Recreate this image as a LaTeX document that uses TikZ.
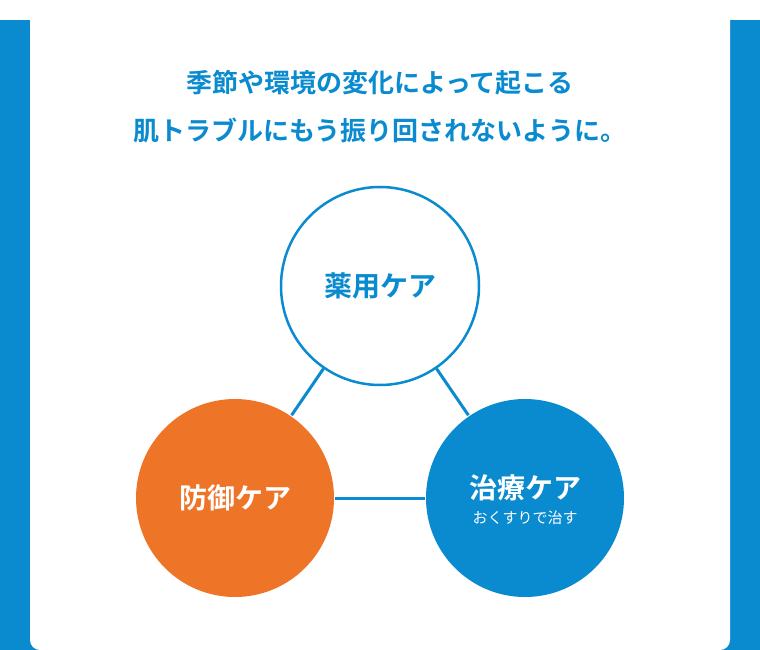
\documentclass[tikz,border=0pt]{standalone}
\usepackage{fontspec}
\newfontfamily\cjk{Noto Sans CJK JP}
\newfontfamily\cjkb{Noto Sans CJK JP Bold}
\definecolor{myblue}{HTML}{0A8BD0}
\definecolor{myorange}{HTML}{EE7527}
\begin{document}
\begin{tikzpicture}[x=1pt,y=-1pt,
  ring/.style={circle,minimum size=198pt,inner sep=0pt,line width=2.5pt},
  link/.style={draw=myblue,line width=3pt},
  ttl/.style={text=myblue,font=\cjkb\fontsize{26}{30}\selectfont}]
\fill[myblue] (0,0) rectangle (760,630);
\fill[white,rounded corners=10pt] (30,-20) rectangle (730,630);
\useasboundingbox (0,0) rectangle (760,630);
\node[ttl] (t1) at (380,63) {季節や環境の変化によって起こる};
\node[ttl] (t2) at (380,110) {肌トラブルにもう振り回されないように。};
\node[ring,draw=myblue,fill=white] (a) at (380,266) {};
\node[ring,fill=myorange] (b) at (235,478) {};
\node[ring,fill=myblue] (c) at (525,478) {};
\draw[link] (a) -- (b);
\draw[link] (a) -- (c);
\draw[link] (b) -- (c);
\node[text=myblue,font=\cjkb\fontsize{28}{32}\selectfont] (la) at (380,266) {薬用ケア};
\node[text=white,font=\cjkb\fontsize{28}{32}\selectfont] (lb) at (235,478) {防御ケア};
\node[text=white,font=\cjkb\fontsize{28}{32}\selectfont] (lc) at (525,468) {治療ケア};
\node[text=white,font=\cjk\fontsize{15}{18}\selectfont] (ld) at (525,498) {おくすりで治す};
\end{tikzpicture}
\end{document}
